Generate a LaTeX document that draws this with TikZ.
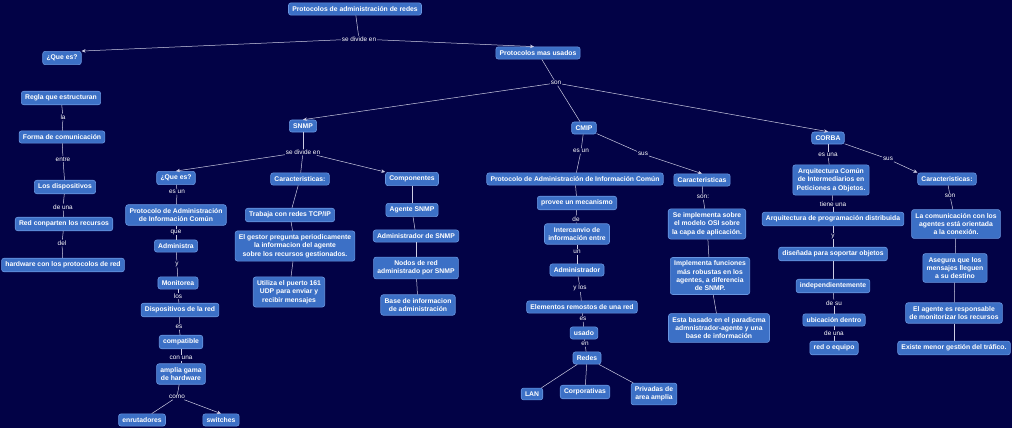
\documentclass[tikz,border=0pt]{standalone}
\usepackage{fontspec}
\setmainfont{Liberation Sans}
\usetikzlibrary{arrows.meta}
\definecolor{bgc}{RGB}{2,2,70}
\definecolor{nodefill}{RGB}{60,112,198}
\definecolor{nodedraw}{RGB}{105,150,225}
\definecolor{linec}{RGB}{205,205,228}
\begin{document}
\begin{tikzpicture}[x=1pt,y=-1pt,
 cn/.style={draw=nodedraw, fill=nodefill, rounded corners=2.5pt, line width=0.6pt, text=white, font=\fontsize{6.8}{8.3}\selectfont\bfseries, align=center, inner xsep=3.8pt, inner ysep=3.6pt},
 lb/.style={fill=bgc, text=white, font=\fontsize{6.4}{7.5}\selectfont, inner sep=0.8pt},
 ln/.style={draw=linec, line width=0.5pt},
 ar/.style={ln, -{Stealth[length=4pt,width=3.5pt]}}]
\fill[bgc] (0,0) rectangle (1012,428);
\useasboundingbox (0,0) rectangle (1012,428);
% top
\node[cn] (top) at (355,9) {Protocolos de administración de redes};
\node[lb] (l0) at (359,39) {se divide en};
\node[cn] (q1) at (62,58) {¿Que es?};
\node[cn] (pmu) at (538,53) {Protocolos mas usados};
% left column
\node[cn] (r1) at (61,98) {Regla que estructuran};
\node[lb] (la) at (63,117) {la};
\node[cn] (r2) at (62,137) {Forma de comunicación};
\node[lb] (entre) at (63,159) {entre};
\node[cn] (r3) at (65,187) {Los dispositivos};
\node[lb] (deuna1) at (63,207) {de una};
\node[cn] (r4) at (64,224) {Red conparten los recursos};
\node[lb] (del) at (62,243) {del};
\node[cn] (r5) at (63,265) {hardware con los protocolos de red};
% protocols
\node[lb] (son) at (556,83) {son};
\node[cn] (snmp) at (303,126) {SNMP};
\node[cn] (cmip) at (584,128) {CMIP};
\node[cn] (corba) at (828,138) {CORBA};
% SNMP
\node[lb] (sdiv) at (303,152) {se divide en};
\node[cn] (sq) at (176,178) {¿Que es?};
\node[cn] (sc) at (300,179) {Caracteristicas:};
\node[cn] (scomp) at (412,179) {Componentes};
\node[lb] (esun) at (177,192) {es un};
\node[cn] (sp) at (176,215) {Protocolo de Administración\\de Información Común};
\node[lb] (que) at (176,232) {que};
\node[cn] (sadm) at (176,246) {Administra};
\node[lb] (y1) at (177,264) {y};
\node[cn] (smon) at (178,283) {Monitorea};
\node[lb] (los) at (178,296) {los};
\node[cn] (sdisp) at (180,310) {Dispositivos de la red};
\node[lb] (es1) at (179,327) {es};
\node[cn] (scompat) at (181,342) {compatible};
\node[lb] (conuna) at (181,358) {con una};
\node[cn] (sampl) at (181,374) {amplia gama\\de hardware};
\node[lb] (como) at (177,397) {como};
\node[cn] (senr) at (142,420) {enrutadores};
\node[cn] (ssw) at (221,420) {switches};
\node[cn] (sc1) at (290,215) {Trabaja con redes TCP/IP};
\node[cn] (sc2) at (295,246) {El gestor pregunta periodicamente\\la informacion del agente\\sobre los recursos gestionados.};
\node[cn] (sc3) at (289,292) {Utiliza el puerto 161\\UDP para enviar y\\recibir mensajes};
\node[cn] (sk1) at (412,210) {Agente SNMP};
\node[cn] (sk2) at (416,236) {Administrador de SNMP};
\node[cn] (sk3) at (416,268) {Nodos de red\\administrado por SNMP};
\node[cn] (sk4) at (418,305) {Base de informacion\\de administración};
% CMIP
\node[lb] (cesun) at (581,151) {es un};
\node[lb] (csus) at (643,154) {sus};
\node[cn] (cp) at (575,179) {Protocolo de Administración de Información Común};
\node[cn] (cc) at (702,180) {Caracteristicas};
\node[cn] (cp1) at (577,203) {provee un mecanismo};
\node[lb] (de) at (576,219) {de};
\node[cn] (cp2) at (577,234) {Intercanvio de\\información entre};
\node[lb] (un) at (577,252) {un};
\node[cn] (cp3) at (577,270) {Administrador};
\node[lb] (ylos) at (580,288) {y los};
\node[cn] (cp4) at (582,307) {Elementos remostos de una red};
\node[lb] (es2) at (583,319) {es};
\node[cn] (cp5) at (584,333) {usado};
\node[lb] (en) at (585,344) {en};
\node[cn] (cp6) at (587,358) {Redes};
\node[cn] (cl) at (532,394) {LAN};
\node[cn] (ccorp) at (585,392) {Corporativas};
\node[cn] (cpriv) at (654,394) {Privadas de\\area amplia};
\node[lb] (cson) at (703,197) {son:};
\node[cn] (cc1) at (707,224) {Se implementa sobre\\el modelo OSI sobre\\la capa de aplicación.};
\node[cn] (cc2) at (710,276) {Implementa funciones\\más robustas en los\\agentes, a diferencia\\de SNMP.};
\node[cn] (cc3) at (719,328) {Esta basado en el paradicma\\admnistrador-agente y una\\base de información};
% CORBA
\node[lb] (kesuna) at (828,155) {es una};
\node[lb] (ksus) at (888,159) {sus};
\node[cn] (ka) at (831,180) {Arquitectura Común\\de Intermediarios en\\Peticiones a Objetos.};
\node[lb] (tieneuna) at (833,204) {tiene una};
\node[cn] (kb) at (833,219) {Arquitectura de programación distribuida};
\node[lb] (yk) at (833,236) {y};
\node[cn] (kc) at (833,254) {diseñada para soportar objetos};
\node[cn] (kd) at (833,286) {independientemente};
\node[lb] (desu) at (834,303) {de su};
\node[cn] (ke) at (834,320) {ubicación dentro};
\node[lb] (deuna2) at (834,333) {de una};
\node[cn] (kf) at (834,348) {red o equipo};
\node[cn] (kcar) at (947,179) {Caracteristicas:};
\node[lb] (kson) at (950,196) {son};
\node[cn] (k1) at (956,224) {La comunicación con los\\agentes está orientada\\a la conexión.};
\node[cn] (k2) at (955,268) {Asegura que los\\mensajes lleguen\\a su destino};
\node[cn] (k3) at (954,313) {El agente es responsable\\de monitorizar los recursos};
\node[cn] (k4) at (954,348) {Existe menor gestión del tráfico.};
% connectors
\foreach \a/\b in {top/l0, r1/la, la/r2, r2/entre, entre/r3, r3/deuna1, deuna1/r4, r4/del, del/r5,
  pmu/son, son/cmip, snmp/sdiv, sdiv/sc,
  sq/esun, esun/sp, sp/que, que/sadm, sadm/y1, y1/smon, smon/los, los/sdisp, sdisp/es1, es1/scompat, scompat/conuna, conuna/sampl, sampl/como, como/senr,
  sc/sc1, sc1/sc2, sc2/sc3, scomp/sk1, sk1/sk2, sk2/sk3, sk3/sk4,
  cmip/cesun, cesun/cp, cmip/csus, cp/cp1, cp1/de, de/cp2, cp2/un, un/cp3, cp3/ylos, ylos/cp4, cp4/es2, es2/cp5, cp5/en, en/cp6, cp6/cl, cp6/ccorp, cp6/cpriv,
  cc/cson, cson/cc1, cc1/cc2, cc2/cc3,
  corba/kesuna, kesuna/ka, corba/ksus, ka/tieneuna, tieneuna/kb, kb/yk, yk/kc, kc/kd, kd/desu, desu/ke, ke/deuna2, deuna2/kf,
  kcar/kson, kson/k1, k1/k2, k2/k3, k3/k4}
  \draw[ln] (\a) -- (\b);
\draw[ar] (l0) -- (q1.north east);
\draw[ar] (l0) -- ([xshift=-4pt]pmu.north);
\draw[ar] (son) -- (snmp.north);
\draw[ar] (son) -- (corba.north);
\draw[ar] (sdiv) -- (sq.north);
\draw[ar] (sdiv) -- (scomp.north west);
\draw[ar] (como) -- (ssw.north);
\draw[ar] (csus) -- (cc.north);
\draw[ar] (ksus) -- (kcar.north west);
\end{tikzpicture}
\end{document}
